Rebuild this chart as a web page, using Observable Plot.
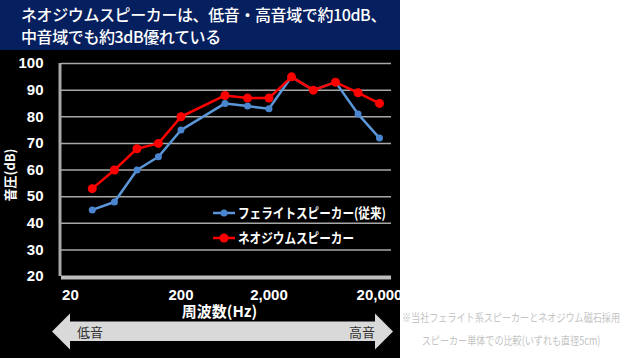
<!DOCTYPE html>
<html><head><meta charset="utf-8">
<script src="https://cdn.jsdelivr.net/npm/d3@7"></script>
<script src="https://cdn.jsdelivr.net/npm/@observablehq/plot@0.6"></script>
<style>
html,body{margin:0;padding:0;background:#fff;width:622px;height:358px;overflow:hidden;}
#wrap{position:absolute;left:0;top:0;width:400px;height:358px;background:#000;overflow:hidden;}
#title{position:absolute;left:0;top:0;width:400px;height:50px;background:#061f5e;color:#fff;
 font-family:"Noto Sans CJK JP",sans-serif;font-size:16px;font-weight:500;line-height:22px;letter-spacing:-0.4px;
 padding:3px 0 0 21px;box-sizing:border-box;white-space:nowrap;}
#chart{position:absolute;left:0;top:50px;}
#note{position:absolute;left:400px;top:306px;width:222px;color:#c4c4c4;
 font-family:"Noto Sans CJK JP",sans-serif;font-size:11.5px;line-height:23px;white-space:nowrap;}
#note div{display:flex;justify-content:center;width:222px;}
#note span{display:inline-block;flex:none;transform:scaleX(0.79);transform-origin:center;}
</style></head>
<body>
<div id="wrap">
  <div id="title">ネオジウムスピーカーは、低音・高音域で約10dB、<br>中音域でも約3dB優れている</div>
  <div id="chart"></div>
</div>
<div id="note"><div><span>※当社フェライト系スピーカーとネオジウム磁石採用</span></div><div><span>スピーカー単体での比較(いずれも直径5cm)</span></div></div>
<script>
const freqs = [31.5, 50, 80, 125, 200, 500, 800, 1250, 2000, 3150, 5000, 8000, 12500];
const ferrite = [45, 48, 60, 65, 75, 85, 84, 83, 95, 90, 93, 81, 72];
const neodymium = [53, 60, 68, 70, 80, 88, 87, 87, 95, 90, 93, 89, 85];
const seriesNames = ["フェライトスピーカー(従来)", "ネオジウムスピーカー"];
const xTicks = [20, 200, 1250, 12500];
const xTickLabels = ["20", "200", "2,000", "20,000"];
const yTicks = [20, 30, 40, 50, 60, 70, 80, 90, 100];
const xDomain = [16.6, 16050];

const blueLine = "#5b97d8", blueDot = "#4a86d0", red = "#ff0000";
const numFont = '"Liberation Sans",Arial,sans-serif';
const jpFont = '"Noto Sans CJK JP",sans-serif';

const fer = freqs.map((f, i) => ({f, v: ferrite[i]}));
const neo = freqs.map((f, i) => ({f, v: neodymium[i]}));
const xt = xTicks.map((t, i) => ({t, label: xTickLabels[i]}));

const plot = Plot.plot({
  width: 400, height: 308,
  marginTop: 13, marginBottom: 82, marginLeft: 61, marginRight: 9,
  style: {background: "#000", color: "#fff", fontFamily: numFont, overflow: "visible"},
  x: {type: "log", domain: xDomain, axis: null},
  y: {domain: [20, 100], axis: null},
  marks: [
    Plot.ruleY(yTicks.filter(d => d > 20), {stroke: "#a8a8a8", strokeWidth: 1.5}),
    Plot.ruleY([20], {stroke: "#bdbdbd", strokeWidth: 4, dy: 1}),
    Plot.ruleX([xDomain[0]], {y1: 20, y2: 100, stroke: "#a8a8a8", strokeWidth: 3, dx: -1.5}),
    Plot.text(yTicks, {y: d => d, text: d => String(d), frameAnchor: "left", dx: -18, textAnchor: "end", fontSize: 15, fontWeight: "bold", fill: "#fff", ariaLabel: "ynum"}),
    Plot.text(xt, {x: "t", text: "label", frameAnchor: "bottom", dy: 19, fontSize: 15, fontWeight: "bold", fill: "#fff", lineAnchor: "middle", ariaLabel: "xnum"}),
    Plot.text(["周波数(Hz)"], {frameAnchor: "bottom", dy: 36, dx: -7, fontSize: 15, fontWeight: "bold", fill: "#fff", fontFamily: jpFont, lineAnchor: "middle"}),
    Plot.text(["音圧(dB)"], {frameAnchor: "left", dx: -51, dy: 5, rotate: -90, textAnchor: "middle", fontSize: 13, fontWeight: "bold", fill: "#fff", fontFamily: jpFont, ariaLabel: "ytitle"}),
    Plot.line(fer, {x: "f", y: "v", stroke: blueLine, strokeWidth: 2.5}),
    Plot.dot(fer, {x: "f", y: "v", r: 3.5, fill: blueDot}),
    Plot.line(neo, {x: "f", y: "v", stroke: red, strokeWidth: 2.5}),
    Plot.dot(neo, {x: "f", y: "v", r: 4.5, fill: red})
  ]
});
document.getElementById("chart").appendChild(plot);
d3.select(plot).selectAll('[aria-label="ynum"] text, [aria-label="xnum"] text').attr("letter-spacing", "-0.8");
d3.select(plot).selectAll('[aria-label="ytitle"] text').attr("letter-spacing", "1.2");

const svg = d3.select(plot);
// legend
const leg = svg.append("g").attr("text-anchor", "start");
[[blueLine, blueDot, 3.5, 163], [red, red, 4.5, 188]].forEach(([lc, dc, r, y], i) => {
  leg.append("line").attr("x1", 213).attr("x2", 235).attr("y1", y).attr("y2", y).attr("stroke", lc).attr("stroke-width", 2.5);
  leg.append("circle").attr("cx", 224).attr("cy", y).attr("r", r).attr("fill", dc);
  leg.append("text").attr("transform", `translate(238,${y}) scale(0.86,1)`).attr("dy", "0.35em").attr("fill", "#fff").attr("text-anchor", "start")
    .attr("font-family", jpFont).attr("font-size", 13.5).attr("font-weight", "bold")
    .text(seriesNames[i]);
});
// low/high arrow
const ar = svg.append("g");
ar.append("path")
  .attr("d", "M52,281.5 L70,263.5 L70,271.5 L375,271.5 L375,263.5 L393,281.5 L375,299.5 L375,291 L70,291 L70,299.5 Z")
  .attr("fill", "#d9d9d9");
ar.append("text").attr("x", 90).attr("y", 282).attr("dy", "0.35em").attr("text-anchor", "middle")
  .attr("font-family", jpFont).attr("font-size", 13).attr("fill", "#333").text("低音");
ar.append("text").attr("x", 362).attr("y", 282).attr("dy", "0.35em").attr("text-anchor", "middle")
  .attr("font-family", jpFont).attr("font-size", 13).attr("fill", "#333").text("高音");
</script>
</body></html>
